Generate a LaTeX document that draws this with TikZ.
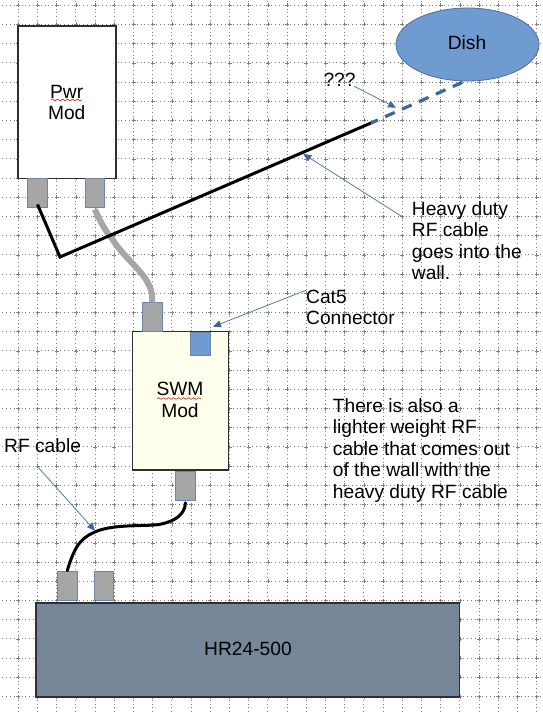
\documentclass[tikz,border=0pt]{standalone}
\usepackage{fontspec}
\setmainfont{Liberation Sans}
\usetikzlibrary{arrows.meta,decorations.pathmorphing,shapes.geometric}
\definecolor{griddot}{HTML}{808080}
\definecolor{boxedge}{HTML}{2F2F2F}
\definecolor{portgray}{HTML}{A6A6A6}
\definecolor{portedge}{HTML}{6F85A8}
\definecolor{dishblue}{HTML}{6F9BD1}
\definecolor{dishedge}{HTML}{4F6F9A}
\definecolor{leadblue}{HTML}{5B7BA6}
\definecolor{tipblue}{HTML}{3F679F}
\definecolor{swmfill}{HTML}{FFFFEE}
\definecolor{hrfill}{HTML}{76879A}
\tikzset{
    modbox/.style={draw=boxedge,line width=1.5pt,inner sep=0pt},
    portbox/.style={draw=portedge,line width=0.9pt,fill=portgray,inner sep=0pt,minimum width=19.5pt,minimum height=29pt},
    bodytext/.style={inner sep=0pt,align=left,anchor=north west,font=\fontsize{19.2}{21.5}\selectfont},
    boxtext/.style={inner sep=0pt,align=center,font=\fontsize{19.2}{21.5}\selectfont},
    heavycable/.style={line width=3pt,black},
    thincable/.style={line width=3pt,black,line cap=round},
    greycable/.style={line width=6pt,portgray},
    dashcable/.style={line width=3.2pt,tipblue,dash pattern=on 10.5pt off 8pt,dash phase=3pt},
    leadline/.style={draw=leadblue,line width=0.8pt,-{Triangle[length=8pt,width=7pt,color=tipblue]}},
    squiggle/.style={draw=red!75!black,line width=0.5pt,decorate,decoration={snake,amplitude=0.9pt,segment length=5pt}},
}
\begin{document}
\begin{tikzpicture}[x=1pt,y=-1pt]
        \useasboundingbox (0,0) rectangle (542,714);
        \fill[white] (0,0) rectangle (542,714);
        % Griglia
        \foreach \gx in {0,...,27} {
            \draw[griddot,line width=0.9pt,dash pattern=on 0.9pt off 2.94pt] ({18.3+19.2*\gx},0.9) -- ({18.3+19.2*\gx},714);
        }
        \foreach \gy in {0,...,36} {
            \draw[griddot,line width=0.9pt,dash pattern=on 0.9pt off 2.94pt] (2.4,{5.3+19.2*\gy}) -- (542,{5.3+19.2*\gy});
            \foreach \gx in {0,...,27} {
                \draw[griddot,line width=0.7pt] ({18.3+19.2*\gx-2},{5.3+19.2*\gy}) -- ({18.3+19.2*\gx+2},{5.3+19.2*\gy});
                \draw[griddot,line width=0.7pt] ({18.3+19.2*\gx},{5.3+19.2*\gy-2}) -- ({18.3+19.2*\gx},{5.3+19.2*\gy+2});
            }
        }
        % Scatole
        \node[modbox,fill=white,minimum width=98pt,minimum height=152.7pt] (pwrmod) at (67,102.3) {};
        \node[modbox,fill=swmfill,minimum width=96.2pt,minimum height=138.3pt] (swmmod) at (180.6,400.8) {};
        \node[modbox,fill=hrfill,minimum width=423.5pt,minimum height=94.3pt] (hrbox) at (247.7,649.9) {};
        \node[ellipse,draw=dishedge,line width=0.8pt,fill=dishblue,minimum width=143pt,minimum height=73pt,inner sep=0pt] (dish) at (467.5,44.5) {};
        % Connettori
        \node[portbox] (pwrleft) at (37.5,193) {};
        \node[portbox] (pwrright) at (94.8,193) {};
        \node[portbox] (swmtop) at (152.2,317.2) {};
        \node[portbox,fill=dishblue,minimum height=23.5pt] (catport) at (200.6,343.8) {};
        \node[portbox] (swmbottom) at (185.4,485.8) {};
        \node[portbox] (hrleft) at (67.3,585.5) {};
        \node[portbox] (hrright) at (103.8,585.5) {};
        % Cavi
        \coordinate (wallbend) at (60,257);
        \coordinate (wallend) at (371,123);
        \coordinate (dishend) at (463,82);
        \draw[greycable] ([yshift=-1.5pt]pwrright.south) .. controls (101,223) and (106,232) .. (111.7,238) .. controls (120,252) and (132,262) .. (140,271.7) .. controls (148,281) and (153,290) .. (swmtop.north);
        \draw[heavycable,line join=miter] ([yshift=3.5pt]pwrleft.south) -- (wallbend) -- (wallend);
        \draw[dashcable] (wallend) -- (dishend);
        \draw[thincable] ([yshift=-2pt]swmbottom.south) .. controls (185,514) and (176,521) .. (160,524.3) .. controls (148,526.5) and (120,524) .. (100,530) .. controls (84,536) and (76,541) .. (hrleft.north);
        % Testi
        \node[boxtext] (pwrtext) at (66.7,102.5) {Pwr\\Mod};
        \node[boxtext] (swmtext) at (180,400) {SWM\\Mod};
        \node[boxtext] (hrtext) at (248,649) {HR24-500};
        \node[boxtext] (dishtext) at (467,43) {Dish};
        \node[bodytext] (qmark) at (323.3,72.5) {???};
        \node[bodytext] (heavytext) at (411.7,201) {Heavy duty\\RF cable\\goes into the\\wall.};
        \node[bodytext] (cattext) at (306,289.5) {Cat5\\Connector};
        \node[bodytext] (rftext) at (4,438.5) {RF cable};
        \node[bodytext] (lightertext) at (332.7,398) {There is also a\\lighter weight RF\\cable that comes out\\of the wall with the\\heavy duty RF cable};
        % Sottolineature
        \draw[squiggle] (51,100) -- (82,100);
        \draw[squiggle] (157,398.5) -- (201,398.5);
        % Frecce
        \coordinate (qmarktip) at (396,107.7);
        \coordinate (heavytip) at (303.3,154);
        \coordinate (cattip) at (213,326.7);
        \coordinate (rftip) at (95,530.7);
        \draw[leadline] ([xshift=-1.5pt]qmark.south east) -- (qmarktip);
        \draw[leadline] ([shift={(-9pt,-16pt)}]heavytext.north west) -- (heavytip);
        \draw[leadline] ([yshift=17pt]cattext.west) -- (cattip);
        \draw[leadline] ([shift={(33pt,-13pt)}]rftext.south west) -- (rftip);
    \end{tikzpicture}
\end{document}
